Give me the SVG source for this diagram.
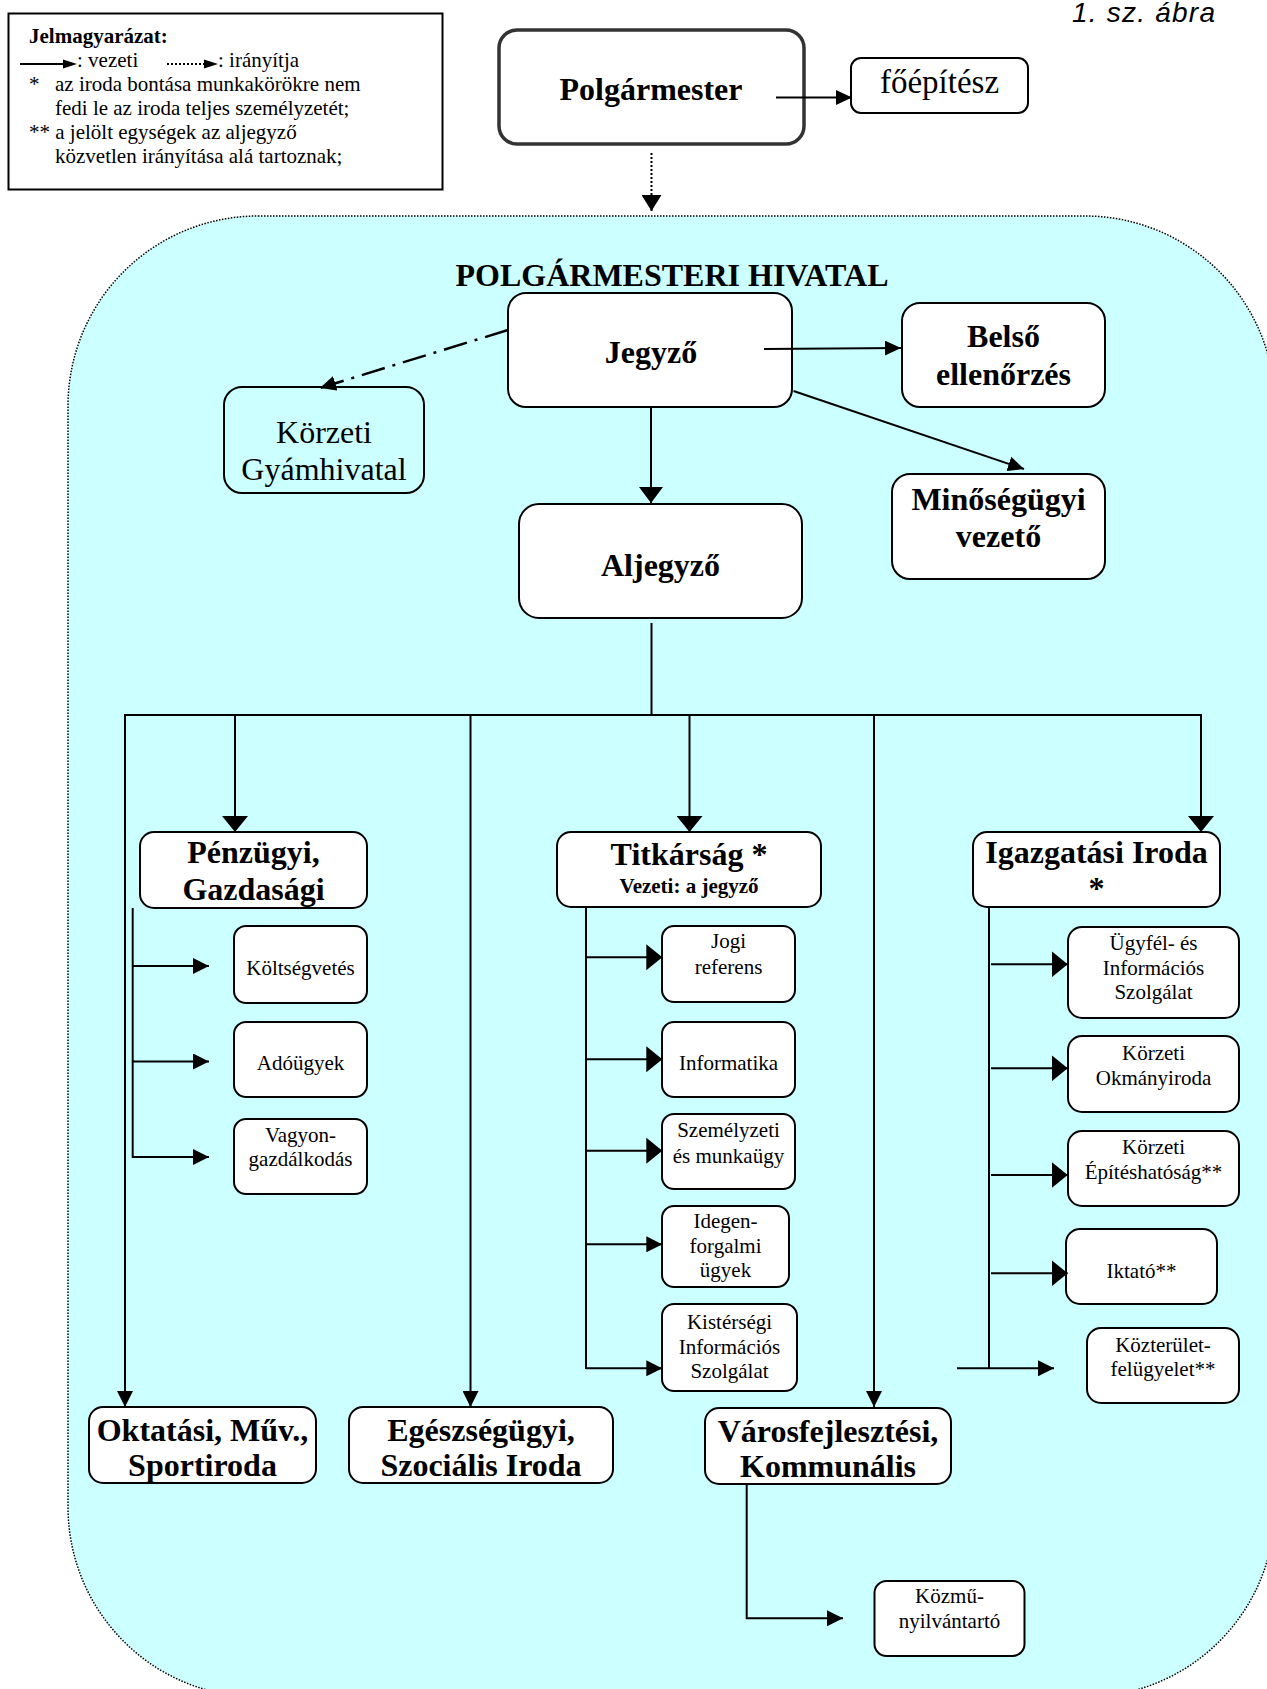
<svg xmlns="http://www.w3.org/2000/svg" width="1267" height="1689" viewBox="0 0 1267 1689">
<style>
.bx{fill:#fff;stroke:#000;stroke-width:2}
.bxc{fill:#ccffff;stroke:#000;stroke-width:2}
.ln{stroke:#000;stroke-width:2;fill:none}
.t{font-family:"Liberation Serif","Times New Roman",serif;fill:#000;text-anchor:middle}
.b32{font-size:32px;font-weight:bold}
.r32{font-size:32px}
.r21{font-size:21px}
.b21{font-size:21px;font-weight:bold}
.lg{font-family:"Liberation Serif","Times New Roman",serif;font-size:21px;fill:#000}
</style>
<defs>
<marker id="aL" markerUnits="userSpaceOnUse" viewBox="0 0 16 26" markerWidth="16" markerHeight="26" refX="16" refY="13" orient="auto"><path d="M0,0 L16,13 L0,26 z" fill="#000"/></marker>
<marker id="aJ" markerUnits="userSpaceOnUse" viewBox="0 0 16 24" markerWidth="16" markerHeight="24" refX="16" refY="12" orient="auto"><path d="M0,0 L16,12 L0,24 z" fill="#000"/></marker>
<marker id="aD" markerUnits="userSpaceOnUse" viewBox="0 0 16 20" markerWidth="16" markerHeight="20" refX="16" refY="10" orient="auto"><path d="M0,0 L16,10 L0,20 z" fill="#000"/></marker>
<marker id="aM" markerUnits="userSpaceOnUse" viewBox="0 0 16 16" markerWidth="16" markerHeight="16" refX="16" refY="8" orient="auto"><path d="M0,0 L16,8 L0,16 z" fill="#000"/></marker>
<marker id="aS" markerUnits="userSpaceOnUse" viewBox="0 0 16 15" markerWidth="16" markerHeight="15" refX="16" refY="7.5" orient="auto"><path d="M0,0 L16,7.5 L0,15 z" fill="#000"/></marker>
</defs>

<rect id="hivatal-bg" x="68" y="216" width="1207" height="1481" rx="190" ry="190" fill="#ccffff" stroke="#000" stroke-width="1.5" stroke-dasharray="1.5 1.5"/>

<g id="legend">
<rect x="8.5" y="13.5" width="434" height="176" fill="#fff" stroke="#000" stroke-width="2"/>
<text class="lg" x="29" y="43" font-weight="bold">Jelmagyarázat:</text>
<line x1="20" y1="64" x2="65" y2="64" stroke="#000" stroke-width="2"/>
<polygon points="63,59.5 77,64 63,68.5" fill="#000"/>
<text class="lg" x="77" y="67">: vezeti</text>
<line x1="167" y1="64" x2="205" y2="64" stroke="#000" stroke-width="2" stroke-dasharray="2 2"/>
<polygon points="204,59.5 218,64 204,68.5" fill="#000"/>
<text class="lg" x="218" y="67">: irányítja</text>
<text class="lg" x="29" y="91">*</text>
<text class="lg" x="55" y="91">az iroda bontása munkakörökre nem</text>
<text class="lg" x="55" y="115">fedi le az iroda teljes személyzetét;</text>
<text class="lg" x="29" y="139">** a jelölt egységek az aljegyző</text>
<text class="lg" x="55" y="163">közvetlen irányítása alá tartoznak;</text>
</g>

<text id="figure-label" x="1072" y="22" font-family="Liberation Sans, Arial, sans-serif" font-style="italic" font-size="28" textLength="143" lengthAdjust="spacing" fill="#000">1. sz. ábra</text>

<text id="title" class="t b32" x="672" y="286">POLGÁRMESTERI HIVATAL</text>

<g id="polgarmester">
<rect x="499" y="30" width="305" height="114" rx="18" fill="#fff" stroke="#333" stroke-width="3.5"/>
<text class="t b32" x="651" y="100" font-size="33">Polgármester</text>
</g>
<g id="foepitesz">
<rect class="bx" x="851" y="58" width="177" height="55" rx="10"/>
<text class="t" x="939.5" y="93" font-size="33">főépítész</text>
</g>
<g id="jegyzo">
<rect class="bx" x="508" y="293" width="284" height="114" rx="18" stroke-width="2.5"/>
<text class="t b32" x="651" y="363">Jegyző</text>
</g>
<g id="belso-ellenorzes">
<rect class="bx" x="902" y="303" width="203" height="104" rx="18"/>
<text class="t b32" x="1003.5" y="347">Belső</text>
<text class="t b32" x="1003.5" y="385">ellenőrzés</text>
</g>
<g id="minosegugyi-vezeto">
<rect class="bx" x="892" y="474" width="213" height="105" rx="18"/>
<text class="t b32" x="998.5" y="510">Minőségügyi</text>
<text class="t b32" x="998.5" y="547">vezető</text>
</g>
<g id="gyamhivatal">
<rect class="bxc" x="224" y="387" width="200" height="106" rx="18"/>
<text class="t r32" x="324" y="443">Körzeti</text>
<text class="t r32" x="324" y="480">Gyámhivatal</text>
</g>
<g id="aljegyzo">
<rect class="bx" x="519" y="504" width="283" height="114" rx="20" stroke-width="2.5"/>
<text class="t b32" x="660.5" y="576">Aljegyző</text>
</g>
<g id="penzugyi">
<rect class="bx" x="140" y="832" width="227" height="76" rx="14"/>
<text class="t b32" x="253.5" y="863">Pénzügyi,</text>
<text class="t b32" x="253.5" y="900">Gazdasági</text>
</g>
<g id="titkarsag">
<rect class="bx" x="557" y="832" width="264" height="75" rx="14"/>
<text class="t b32" x="689" y="865">Titkárság *</text>
<text class="t b21" x="689" y="893">Vezeti: a jegyző</text>
</g>
<g id="igazgatasi">
<rect class="bx" x="973" y="832" width="247" height="75" rx="14"/>
<text class="t b32" x="1096.5" y="863">Igazgatási Iroda</text>
<text class="t b32" x="1096.5" y="899">*</text>
</g>
<g id="oktatasi">
<rect class="bx" x="89" y="1407" width="227" height="76" rx="14"/>
<text class="t b32" x="202.5" y="1441">Oktatási, Műv.,</text>
<text class="t b32" x="202.5" y="1476">Sportiroda</text>
</g>
<g id="egeszsegugyi">
<rect class="bx" x="349" y="1407" width="264" height="76" rx="14"/>
<text class="t b32" x="481" y="1441">Egészségügyi,</text>
<text class="t b32" x="481" y="1476">Szociális Iroda</text>
</g>
<g id="varosfejlesztesi">
<rect class="bx" x="705" y="1408" width="246" height="76" rx="14"/>
<text class="t b32" x="828" y="1442">Városfejlesztési,</text>
<text class="t b32" x="828" y="1477">Kommunális</text>
</g>
<g id="koltsegvetes">
<rect class="bx" x="234" y="926" width="133" height="77" rx="12"/>
<text class="t r21" x="300.5" y="975">Költségvetés</text>
</g>
<g id="adougyek">
<rect class="bx" x="234" y="1022" width="133" height="75" rx="12"/>
<text class="t r21" x="300.5" y="1069.5">Adóügyek</text>
</g>
<g id="vagyongazdalkodas">
<rect class="bx" x="234" y="1119" width="133" height="75" rx="12"/>
<text class="t r21" x="300.5" y="1142">Vagyon-</text>
<text class="t r21" x="300.5" y="1166">gazdálkodás</text>
</g>
<g id="jogi-referens">
<rect class="bx" x="662" y="926" width="133" height="76" rx="12"/>
<text class="t r21" x="728.5" y="948">Jogi</text>
<text class="t r21" x="728.5" y="974">referens</text>
</g>
<g id="informatika">
<rect class="bx" x="662" y="1022" width="133" height="75" rx="12"/>
<text class="t r21" x="728.5" y="1070">Informatika</text>
</g>
<g id="szemelyzeti">
<rect class="bx" x="662" y="1114" width="133" height="75" rx="12"/>
<text class="t r21" x="728.5" y="1137">Személyzeti</text>
<text class="t r21" x="728.5" y="1163">és munkaügy</text>
</g>
<g id="idegenforgalmi">
<rect class="bx" x="662" y="1206" width="127" height="81" rx="12"/>
<text class="t r21" x="725.5" y="1228">Idegen-</text>
<text class="t r21" x="725.5" y="1252.7">forgalmi</text>
<text class="t r21" x="725.5" y="1276.7">ügyek</text>
</g>
<g id="kistersegi">
<rect class="bx" x="662" y="1304" width="135" height="87" rx="12" stroke-width="3"/>
<text class="t r21" x="729.5" y="1329">Kistérségi</text>
<text class="t r21" x="729.5" y="1354">Információs</text>
<text class="t r21" x="729.5" y="1378">Szolgálat</text>
</g>
<g id="ugyfel">
<rect class="bx" x="1068" y="927" width="171" height="91" rx="14"/>
<text class="t r21" x="1153.5" y="950">Ügyfél- és</text>
<text class="t r21" x="1153.5" y="975">Információs</text>
<text class="t r21" x="1153.5" y="999">Szolgálat</text>
</g>
<g id="okmanyiroda">
<rect class="bx" x="1068" y="1036" width="171" height="76" rx="14"/>
<text class="t r21" x="1153.5" y="1060">Körzeti</text>
<text class="t r21" x="1153.5" y="1085">Okmányiroda</text>
</g>
<g id="epiteshatosag">
<rect class="bx" x="1068" y="1131" width="171" height="75" rx="14"/>
<text class="t r21" x="1153.5" y="1154">Körzeti</text>
<text class="t r21" x="1153.5" y="1179">Építéshatóság**</text>
</g>
<g id="iktato">
<rect class="bx" x="1066" y="1229" width="151" height="75" rx="14"/>
<text class="t r21" x="1141.5" y="1278">Iktató**</text>
</g>
<g id="kozterulet">
<rect class="bx" x="1087" y="1328" width="152" height="75" rx="14"/>
<text class="t r21" x="1163" y="1352">Közterület-</text>
<text class="t r21" x="1163" y="1376">felügyelet**</text>
</g>
<g id="kozmu">
<rect class="bx" x="874.5" y="1581" width="150" height="75" rx="12"/>
<text class="t r21" x="949.5" y="1603">Közmű-</text>
<text class="t r21" x="949.5" y="1628">nyilvántartó</text>
</g>

<g id="connectors">
<line class="ln" x1="776" y1="97.5" x2="852" y2="97.5" marker-end="url(#aS)"/>
<line x1="651.5" y1="153" x2="651.5" y2="211" stroke="#000" stroke-width="2" stroke-dasharray="2 2" marker-end="url(#aD)"/>
<line class="ln" x1="651" y1="407" x2="651" y2="503" marker-end="url(#aJ)"/>
<line class="ln" x1="764" y1="349" x2="901" y2="348" marker-end="url(#aS)"/>
<line class="ln" x1="793.5" y1="391" x2="1024" y2="469" marker-end="url(#aS)"/>
<line x1="508" y1="330" x2="320" y2="388" stroke="#000" stroke-width="2.5" stroke-dasharray="24 8 3 8" marker-end="url(#aS)"/>
<line class="ln" x1="651.5" y1="623" x2="651.5" y2="716"/>
<line class="ln" x1="124" y1="715" x2="1202" y2="715"/>
<line class="ln" x1="125" y1="715" x2="125" y2="1407" marker-end="url(#aM)"/>
<line class="ln" x1="235" y1="715" x2="235" y2="832" marker-end="url(#aL)"/>
<line class="ln" x1="470.5" y1="715" x2="470.5" y2="1407" marker-end="url(#aM)"/>
<line class="ln" x1="689.5" y1="715" x2="689.5" y2="832" marker-end="url(#aL)"/>
<line class="ln" x1="874" y1="715" x2="874" y2="1407" marker-end="url(#aM)"/>
<line class="ln" x1="1201" y1="715" x2="1201" y2="832" marker-end="url(#aL)"/>
<line class="ln" x1="132.7" y1="908" x2="132.7" y2="1158"/>
<line class="ln" x1="132.7" y1="966" x2="209" y2="966" marker-end="url(#aM)"/>
<line class="ln" x1="132.7" y1="1061.5" x2="209" y2="1061.5" marker-end="url(#aM)"/>
<line class="ln" x1="132.7" y1="1157" x2="209" y2="1157" marker-end="url(#aM)"/>
<line class="ln" x1="586" y1="907" x2="586" y2="1369"/>
<line class="ln" x1="586" y1="957.3" x2="662.3" y2="957.3" marker-end="url(#aL)"/>
<line class="ln" x1="586" y1="1059.3" x2="662.3" y2="1059.3" marker-end="url(#aL)"/>
<line class="ln" x1="586" y1="1150.7" x2="662.3" y2="1150.7" marker-end="url(#aL)"/>
<line class="ln" x1="586" y1="1244.3" x2="662.3" y2="1244.3" marker-end="url(#aM)"/>
<line class="ln" x1="586" y1="1368.3" x2="662.3" y2="1368.3" marker-end="url(#aM)"/>
<line class="ln" x1="989" y1="907" x2="989" y2="1369"/>
<line class="ln" x1="991" y1="964.3" x2="1067.7" y2="964.3" marker-end="url(#aL)"/>
<line class="ln" x1="991" y1="1068.3" x2="1067.7" y2="1068.3" marker-end="url(#aL)"/>
<line class="ln" x1="991" y1="1175" x2="1067.7" y2="1175" marker-end="url(#aL)"/>
<line class="ln" x1="991" y1="1273.3" x2="1067.7" y2="1273.3" marker-end="url(#aL)"/>
<line class="ln" x1="957" y1="1368.3" x2="1054" y2="1368.3" marker-end="url(#aM)"/>
<path class="ln" d="M746.7,1484 L746.7,1618.3 L843,1618.3" marker-end="url(#aM)"/>
</g>
</svg>
